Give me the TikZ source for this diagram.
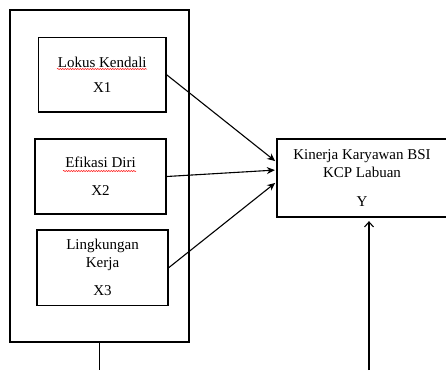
\documentclass[tikz,border=0pt]{standalone}
\usepackage{fontspec}
\setmainfont{Liberation Serif}
\usepackage{tikz}
\usetikzlibrary{arrows.meta, positioning, decorations.pathmorphing}

\begin{document}
\begin{tikzpicture}[
    x=1pt, y=-1pt,
    font=\fontsize{15}{18}\selectfont,
    frame/.style={rectangle, draw, line width=1.3pt, inner sep=0pt},
    varbox/.style={rectangle, draw, line width=1.3pt, inner sep=0pt, align=center, minimum height=75pt},
    link/.style={-{Stealth[length=8pt, width=7pt]}, line width=1.1pt},
    spell/.style={red, line width=0.5pt, decorate, decoration={snake, amplitude=0.6pt, segment length=2.5pt}}
]
\useasboundingbox (0,0) rectangle (446,370);

% Outer frame
\node[frame, minimum width=179pt, minimum height=332pt] (frame) at (99.5,176) {};

% Independent variables
\node[varbox, minimum width=127.5pt, minimum height=74.5pt] (lokus) at (102.25,74.75) {Lokus Kendali\\[7pt]X1};
\node[varbox, minimum width=131pt] (efikasi) at (100.5,176.5) {Efikasi Diri\\[10pt]X2};
\node[varbox, minimum width=131pt, minimum height=75.5pt] (lingkungan) at (102.5,267.75) {Lingkungan\\Kerja\\[10pt]X3};

% Dependent variable
\node[varbox, minimum width=170pt, minimum height=78pt] (kinerja) at (362,178) {Kinerja Karyawan BSI\\KCP Labuan\\[11pt]Y};

% Free ends at the bottom
\coordinate (leftend) at (99.5,370);
\coordinate (rightend) at (369,370);

% Arrows
\draw[link, shorten >=1.5pt] (lokus.east) -- ([yshift=16pt]kinerja.west);
\draw[link, shorten >=1.5pt] (efikasi.east) -- ([yshift=8pt]kinerja.west);
\draw[link, shorten >=1.5pt] (lingkungan.east) -- ([yshift=-4pt]kinerja.west);
\draw[line width=1.1pt] (frame.south) -- (leftend);
\draw[-{Straight Barb[length=5pt, width=9pt]}, line width=1.1pt, shorten >=3.5pt] (rightend) -- (rightend |- kinerja.south);

% Spell-check marks
\draw[spell] (57,69) -- (147,69);
\draw[spell] (63,171) -- (136,171);

\end{tikzpicture}
\end{document}
